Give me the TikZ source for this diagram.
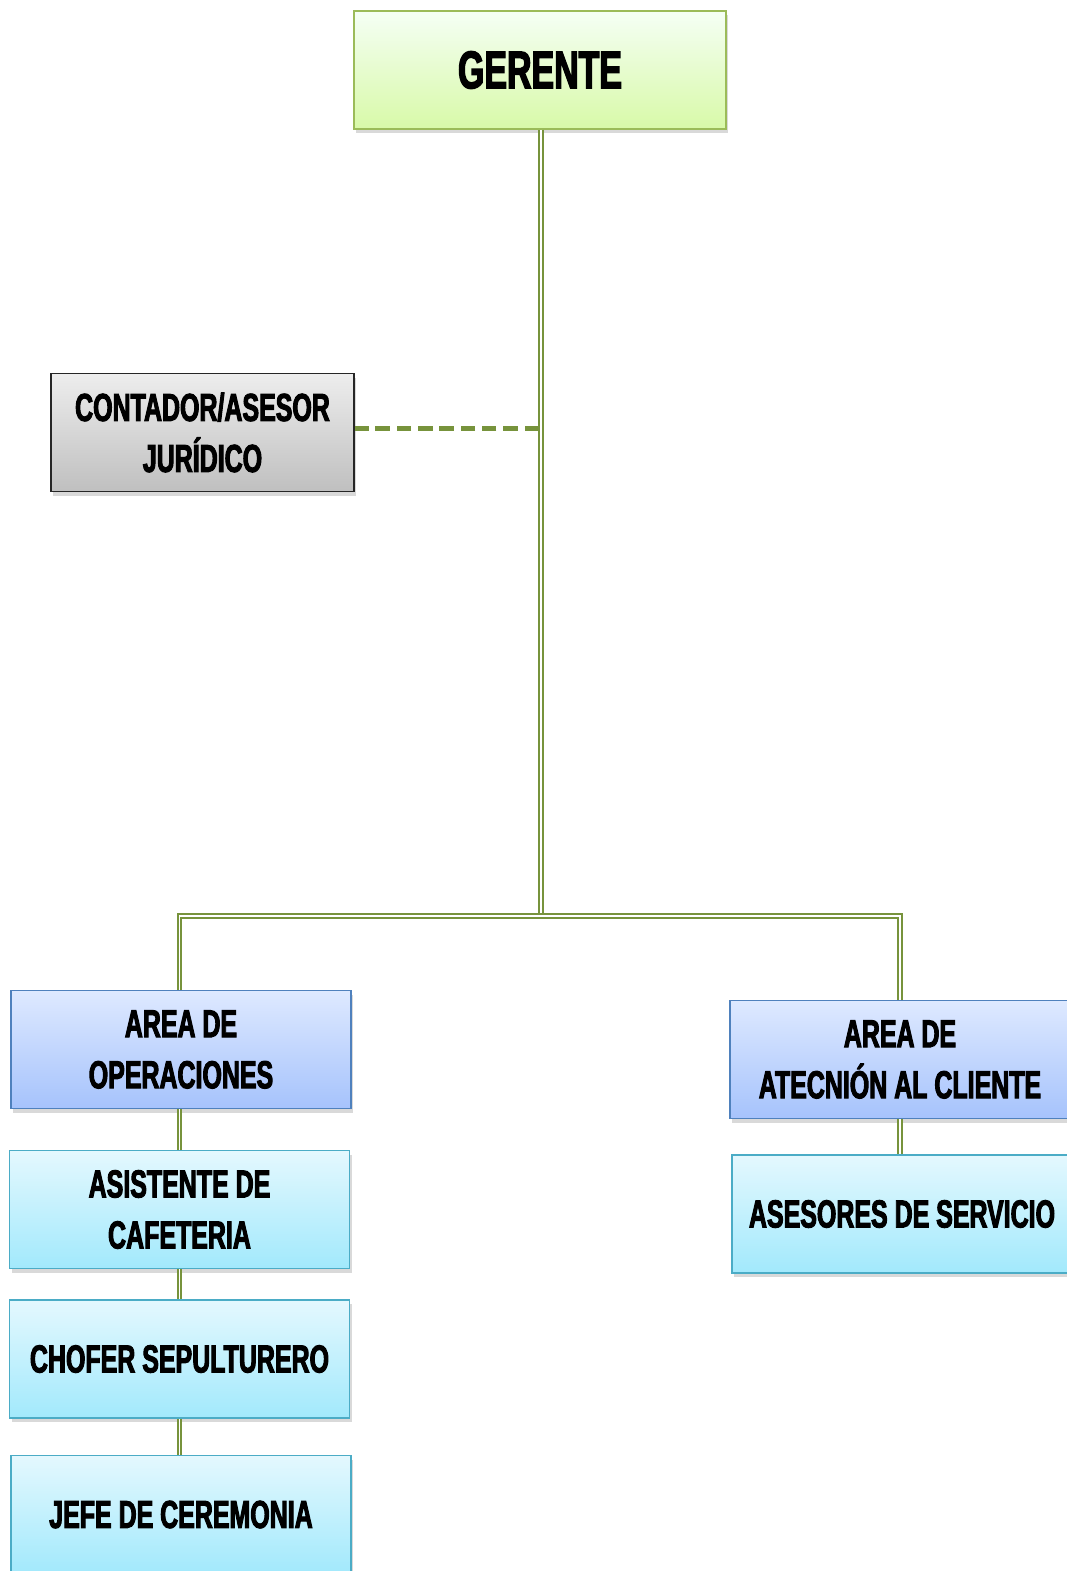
\documentclass[tikz,border=0pt]{standalone}
\usepackage{fontspec}
\newfontfamily\orgfont[FakeStretch=0.64,FakeBold=2.5]{Liberation Sans}
\usetikzlibrary{shadows}
\definecolor{LinkGreen}{RGB}{119,147,60}
\definecolor{BossGreen}{RGB}{155,187,89}
\definecolor{AreaBlue}{RGB}{79,129,189}
\definecolor{StaffAqua}{RGB}{75,172,198}

\begin{document}
\begin{tikzpicture}[x=1pt, y=-1pt,
    every node/.style={font=\orgfont\bfseries\fontsize{39}{51}\selectfont, align=center},
    post/.style={draw, line width=1.6pt, inner sep=0pt, minimum width=340pt, minimum height=118pt,
      shading=axis, drop shadow={shadow xshift=2pt, shadow yshift=-4pt, opacity=.3}},
    boss/.style={post, draw=BossGreen, top color=green!4!white, bottom color={rgb,255:red,216;green,249;blue,168}, minimum width=372pt},
    advisor/.style={post, draw=black!85, top color=black!7, bottom color=black!25, minimum width=303pt},
    area/.style={post, draw=AreaBlue, top color={rgb,255:red,222;green,233;blue,255}, bottom color={rgb,255:red,166;green,195;blue,252}},
    staff/.style={post, draw=StaffAqua, top color={rgb,255:red,228;green,248;blue,254}, bottom color={rgb,255:red,162;green,233;blue,252}},
    link/.style={draw=LinkGreen, line width=1.8pt, double=white, double distance=1.5pt},
    dashlink/.style={draw=LinkGreen, line width=5pt, dash pattern=on 14.5pt off 6.8pt}]
  \useasboundingbox (0,0) rectangle (1067,1571);
  \node[boss] (gerente) at (540,70) {\fontsize{53}{60}\selectfont GERENTE};
  \node[advisor] (contador) at (202.5,432.5) {CONTADOR/ASESOR\\JURÍDICO};
  \coordinate (bar) at (541,916);
  \coordinate (tap) at (539,428);
  \node[area] (ops) at (181,1049.5) {AREA DE\\OPERACIONES};
  \node[staff] (cafe) at (179.5,1209.5) {ASISTENTE DE\\CAFETERIA};
  \node[staff] (chofer) at (179.5,1359) {CHOFER SEPULTURERO};
  \node[staff] (jefe) at (181,1514.5) {JEFE DE CEREMONIA};
  \node[area] (cliente) at (900,1059.5) {AREA DE\\ATECNIÓN AL CLIENTE};
  \node[staff] (asesores) at (902,1214) {ASESORES DE SERVICIO};

  \draw[dashlink] (tap) -- (contador.east |- tap);
  \draw[link] (gerente.south -| bar) -- (bar);
  \draw[link] (ops.north -| cafe) |- (bar) -| (cliente.north);
  \draw[link] (ops.south -| cafe) -- (cafe.north);
  \draw[link] (cafe) -- (chofer);
  \draw[link] (chofer.south) -- (chofer.south |- jefe.north);
  \draw[link] (cliente) -- (cliente |- asesores.north);
\end{tikzpicture}
\end{document}
